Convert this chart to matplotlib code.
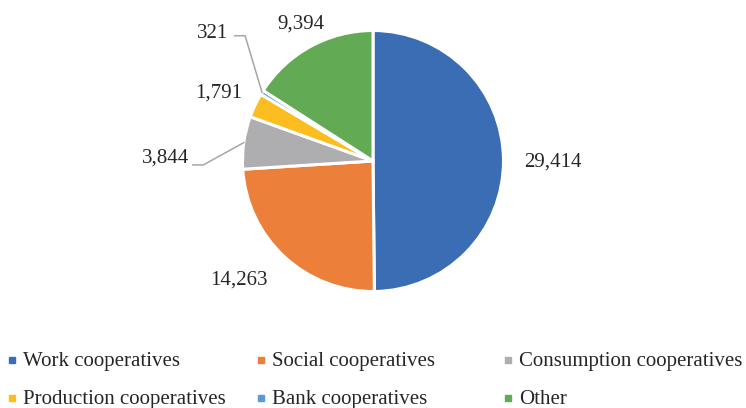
import numpy as np
import matplotlib.pyplot as plt
from matplotlib.patches import Rectangle

plt.rcParams['font.family'] = 'serif'
plt.rcParams['font.serif'] = ['Liberation Serif', 'DejaVu Serif']

# cooperatives by type
categories = ["Work cooperatives", "Social cooperatives", "Consumption cooperatives",
              "Production cooperatives", "Bank cooperatives", "Other"]
counts = [29414, 14263, 3844, 1791, 321, 9394]
colors = ["#3b6db5", "#ec7f39", "#aeaeb0", "#fbbd1f", "#5b9bd5", "#62aa53"]

# where each value label sits (pie radius = 1)
label_pos = [(1.38, -0.01), (-1.03, -0.91), (-1.59, 0.02),
             (-1.18, 0.52), (-1.23, 0.98), (-0.55, 1.05)]
# leader lines: index -> (start x, bend x, y)
leaders = {2: (-1.38, -1.30, -0.03), 4: (-1.06, -0.98, 0.96)}

W, H = 746, 408
fig = plt.figure(figsize=(W / 100, H / 100), dpi=100)
ax = fig.add_axes([0, 0, 1, 1])

wedges, _ = ax.pie(counts, colors=colors, startangle=90, counterclock=False,
                   radius=1, wedgeprops=dict(edgecolor='white', linewidth=2.2))

# pie() resets the limits, so set them afterwards
r_px = 130.5
cx, cy = 373, 161
ax.set_xlim(-cx / r_px, (W - cx) / r_px)
ax.set_ylim(-(H - cy) / r_px, cy / r_px)
ax.set_aspect('equal')
ax.axis('off')

for i, (w, v) in enumerate(zip(wedges, counts)):
    x, y = label_pos[i]
    ax.text(x, y, f"{v:,}", ha='center', va='center', fontsize=15, color='#262626')
    if i in leaders:
        ang = np.deg2rad((w.theta1 + w.theta2) / 2)
        sx, bx, by = leaders[i]
        ax.plot([sx, bx, np.cos(ang)], [by, by, np.sin(ang)],
                color='#a6a6a6', lw=1.1, clip_on=False)

# legend laid out in three equal columns, two rows
col_x = [9, 258, 505]
row_base = [366, 404]
for k, (name, c) in enumerate(zip(categories, colors)):
    px = col_x[k % 3]
    py = row_base[k // 3]
    fig.patches.append(Rectangle((px / W, 1 - (py - 3) / H), 6 / W, 6 / H,
                                 transform=fig.transFigure, color=c))
    fig.text((px + 14) / W, 1 - py / H, name, fontsize=15, color='#262626',
             ha='left', va='baseline')

fig.savefig("out.png", dpi=100)
